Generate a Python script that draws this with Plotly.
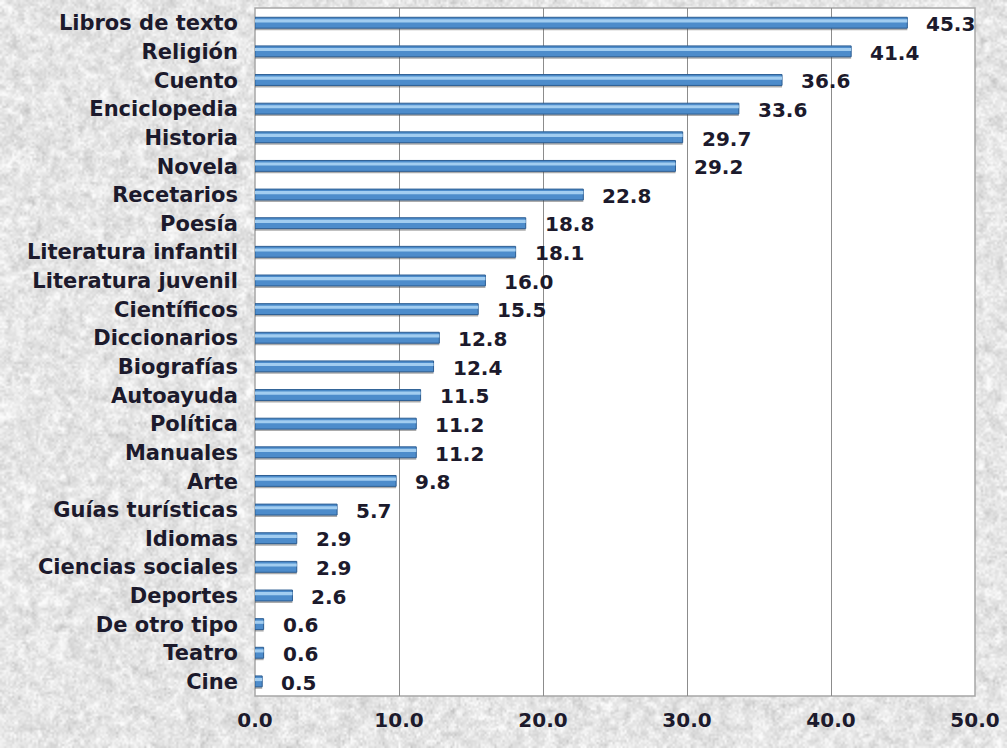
import base64
import struct
import zlib

import numpy as np
import plotly.graph_objects as go

# Book genres read (percent), top to bottom
categories = [
    "Libros de texto", "Religión", "Cuento", "Enciclopedia", "Historia", "Novela",
    "Recetarios", "Poesía", "Literatura infantil", "Literatura juvenil", "Científicos",
    "Diccionarios", "Biografías", "Autoayuda", "Política", "Manuales", "Arte",
    "Guías turísticas", "Idiomas", "Ciencias sociales", "Deportes", "De otro tipo",
    "Teatro", "Cine",
]
values = [
    45.3, 41.4, 36.6, 33.6, 29.7, 29.2, 22.8, 18.8, 18.1, 16.0, 15.5, 12.8, 12.4,
    11.5, 11.2, 11.2, 9.8, 5.7, 2.9, 2.9, 2.6, 0.6, 0.6, 0.5,
]
x_ticks = [0, 10, 20, 30, 40, 50]
x_tick_labels = ["0.0", "10.0", "20.0", "30.0", "40.0", "50.0"]

W, H = 1007, 748
M_L, M_R, M_T, M_B = 255, 32, 8, 52
PW, PH = W - M_L - M_R, H - M_T - M_B

FONT = "DejaVu Sans"
TEXT_COLOR = "#1c1a2c"


def paper_texture(w, h, seed=7):
    """Grainy light-grey paper background as a grayscale PNG data URI."""
    rng = np.random.default_rng(seed)
    fine = rng.normal(0, 1, (h, w))
    coarse = rng.normal(0, 1, (h // 3 + 2, w // 3 + 2))
    coarse = np.kron(coarse, np.ones((3, 3)))[:h, :w]
    k = np.ones(3) / 3
    coarse = np.apply_along_axis(lambda r: np.convolve(r, k, mode="same"), 1, coarse)
    coarse = np.apply_along_axis(lambda c: np.convolve(c, k, mode="same"), 0, coarse)
    img = 230 + 9 * fine + 9 * coarse
    img = np.clip(img, 195, 252).astype(np.uint8)
    raw = b"".join(b"\x00" + img[i].tobytes() for i in range(h))

    def chunk(tag, data):
        c = struct.pack(">I", len(data)) + tag + data
        return c + struct.pack(">I", zlib.crc32(tag + data) & 0xFFFFFFFF)

    png = b"\x89PNG\r\n\x1a\n"
    png += chunk(b"IHDR", struct.pack(">IIBBBBB", w, h, 8, 0, 0, 0, 0))
    png += chunk(b"IDAT", zlib.compress(raw, 9))
    png += chunk(b"IEND", b"")
    return "data:image/png;base64," + base64.b64encode(png).decode()


fig = go.Figure()

# drop shadow under each bar
fig.add_trace(go.Bar(
    x=values, y=categories, orientation="h",
    width=0.38, offset=-0.13,
    marker=dict(color="rgba(70,70,70,0.45)", line=dict(width=0)),
    hoverinfo="skip", showlegend=False,
))
# main bar body
fig.add_trace(go.Bar(
    x=values, y=categories, orientation="h",
    width=0.38, offset=-0.2,
    marker=dict(color="#4d8ccb", line=dict(color="#2d5e93", width=1)),
    showlegend=False,
))
# glossy highlight stripe
fig.add_trace(go.Bar(
    x=values, y=categories, orientation="h",
    width=0.11, offset=-0.13,
    marker=dict(color="#a2cdf0", line=dict(width=0)),
    hoverinfo="skip", showlegend=False,
))

# value labels beside bar ends
for cat, val in zip(categories, values):
    fig.add_annotation(
        x=val, y=cat, text=f"{val:.1f}", showarrow=False,
        xanchor="left", yanchor="middle", xshift=17, yshift=-1,
        font=dict(family=FONT, size=20, color=TEXT_COLOR, weight="bold"),
    )

# plot area panel over the paper texture
fig.add_shape(
    type="rect", xref="paper", yref="paper", x0=0, x1=1, y0=0, y1=1,
    fillcolor="white", line=dict(color="#a6a6a6", width=1.5), layer="below",
)

fig.add_layout_image(
    source=paper_texture(W // 2, H // 2),
    xref="paper", yref="paper",
    x=-M_L / PW, y=1 + M_T / PH, sizex=W / PW, sizey=H / PH,
    xanchor="left", yanchor="top", sizing="stretch", layer="below",
)

fig.update_layout(
    width=W, height=H,
    margin=dict(l=M_L, r=M_R, t=M_T, b=M_B),
    barmode="overlay",
    paper_bgcolor="#e4e4e4",
    plot_bgcolor="white",
    xaxis=dict(
        range=[0, 50], tickvals=x_ticks, ticktext=x_tick_labels,
        showgrid=True, gridcolor="#8c8c8c", gridwidth=1,
        zeroline=False, showline=False, ticks="",
        tickfont=dict(family=FONT, size=20, color=TEXT_COLOR, weight="bold"),
        ticklabelstandoff=10, fixedrange=True,
    ),
    yaxis=dict(
        categoryorder="array", categoryarray=categories, autorange="reversed",
        showgrid=False, zeroline=False, showline=False, ticks="",
        tickfont=dict(family=FONT, size=21, color=TEXT_COLOR, weight="bold"),
        ticklabelstandoff=16, fixedrange=True,
    ),
)

fig.write_html("out.html")
